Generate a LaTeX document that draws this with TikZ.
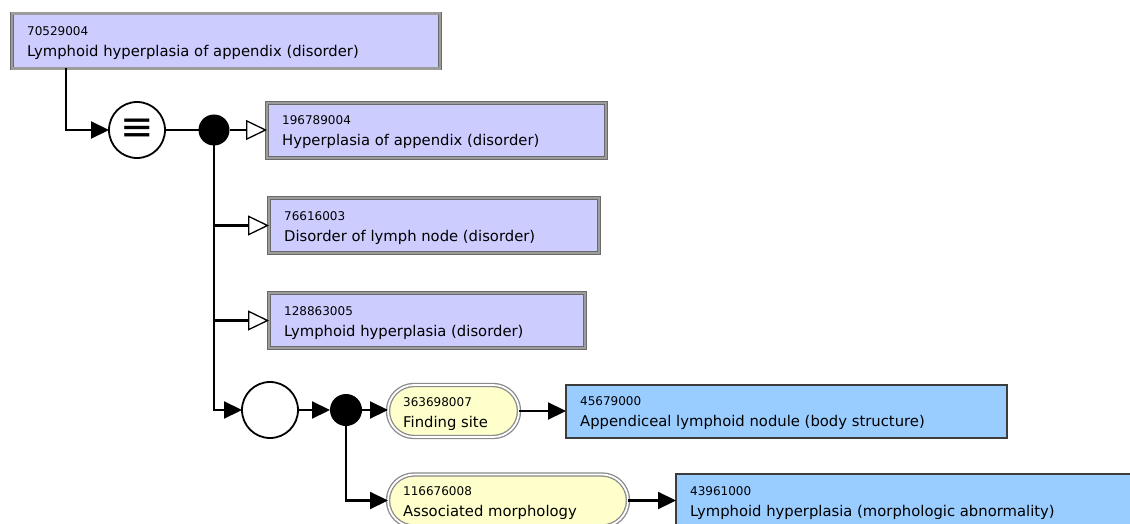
\documentclass[tikz,border=0pt]{standalone}
\usepackage{fontspec}
\setmainfont{DejaVu Sans}
\usetikzlibrary{arrows.meta}
\definecolor{lav}{HTML}{CCCCFF}
\definecolor{sky}{HTML}{99CCFF}
\definecolor{cream}{HTML}{FFFFCC}
\definecolor{rim}{HTML}{6A6A6A}
\definecolor{band}{HTML}{9C9C9C}
\definecolor{edge}{HTML}{3C3C3C}
\definecolor{pillrim}{HTML}{8A8A8A}

\begin{document}
\begin{tikzpicture}[x=1pt,y=-1pt,
  box/.style={rectangle, inner sep=0pt, outer sep=0pt},
  disorder/.style={box, fill=lav, draw=rim, line width=0.7pt, double=band, double distance=2.4pt, minimum height=55pt},
  structure/.style={box, fill=sky, draw=edge, line width=2pt, minimum height=53pt},
  attr/.style={box, fill=cream, draw=pillrim, line width=1.3pt, double=white, double distance=1.8pt, rounded corners=26pt, minimum height=52pt},
  idtxt/.style={anchor=base west, inner sep=0pt, font=\fontsize{12}{13}\selectfont},
  nametxt/.style={anchor=base west, inner sep=0pt, font=\fontsize{14.8}{17}\selectfont},
  link/.style={line width=2.2pt, draw=black},
  fillhead/.style={-{Triangle[length=18pt,width=17pt]}},
  openhead/.style={-{Triangle[open,length=21pt,width=20pt,fill=white,line width=1.3pt]}},
  ring/.style={circle, draw=black, line width=1.8pt, fill=white, minimum size=56pt, inner sep=0pt, outer sep=0pt},
  dot/.style={circle, fill=black, inner sep=0pt, outer sep=0pt}
]
\useasboundingbox (0,0) rectangle (1130,524);
\clip (0,0) rectangle (1130,524);

% concept boxes
\node[disorder, minimum width=428pt] (c1) at (226,41) {};
\node[disorder, minimum width=339pt] (c2) at (436.5,130.5) {};
\node[disorder, minimum width=330pt] (c3) at (434,225.5) {};
\node[disorder, minimum width=316pt] (c4) at (427,320.5) {};
\node[attr, minimum width=131pt] (p1) at (453.5,411) {};
\node[attr, minimum width=240pt] (p2) at (508,500.5) {};
\node[structure, minimum width=441pt] (s1) at (786.5,411) {};
\node[structure, minimum width=480pt] (s2) at (916,500.5) {};

% labels
\node[idtxt] at ([shift={(15,22)}]c1.north west) {70529004};
\node[nametxt] at ([shift={(15,43)}]c1.north west) {Lymphoid hyperplasia of appendix (disorder)};
\node[idtxt] at ([shift={(15,22)}]c2.north west) {196789004};
\node[nametxt] at ([shift={(15,43)}]c2.north west) {Hyperplasia of appendix (disorder)};
\node[idtxt] at ([shift={(15,22)}]c3.north west) {76616003};
\node[nametxt] at ([shift={(15,43)}]c3.north west) {Disorder of lymph node (disorder)};
\node[idtxt] at ([shift={(15,22)}]c4.north west) {128863005};
\node[nametxt] at ([shift={(15,43)}]c4.north west) {Lymphoid hyperplasia (disorder)};
\node[idtxt] at ([shift={(15,21)}]p1.north west) {363698007};
\node[nametxt] at ([shift={(15,42)}]p1.north west) {Finding site};
\node[idtxt] at ([shift={(15,21)}]p2.north west) {116676008};
\node[nametxt] at ([shift={(15,42)}]p2.north west) {Associated morphology};
\node[idtxt] at ([shift={(14,21)}]s1.north west) {45679000};
\node[nametxt] at ([shift={(14,42)}]s1.north west) {Appendiceal lymphoid nodule (body structure)};
\node[idtxt] at ([shift={(14,21)}]s2.north west) {43961000};
\node[nametxt] at ([shift={(14,42)}]s2.north west) {Lymphoid hyperplasia (morphologic abnormality)};

% operators
\node[ring] (eq) at (137,130) {\fontsize{40}{40}\selectfont ≡};
\node[dot, minimum size=31pt] (d1) at (214,130) {};
\node[ring] (grp) at (270,410) {};
\node[dot, minimum size=32pt] (d2) at (346,410) {};

% connectors
\coordinate (drop) at ([xshift=54pt]c1.south west);
\draw[link, fillhead] (drop) |- (eq.west);
\draw[link] (eq.east) -- (d1.west);
\draw[link, openhead] (d1.east) -- (c2.west |- d1.east);
\draw[link, fillhead] (d1.south) |- (grp.west);
\draw[link, openhead] (d1 |- c3.west) -- (c3.west);
\draw[link, openhead] (d1 |- c4.west) -- (c4.west);
\draw[link, fillhead] (grp.east) -- (d2.west);
\draw[link, fillhead] (d2.east) -- (p1.west |- d2.east);
\draw[link, fillhead] (d2.south) |- (p2.west);
\draw[link, fillhead] (p1.east) -- (s1.west |- p1.east);
\draw[link, fillhead] (p2.east) -- (s2.west |- p2.east);
\end{tikzpicture}
\end{document}
